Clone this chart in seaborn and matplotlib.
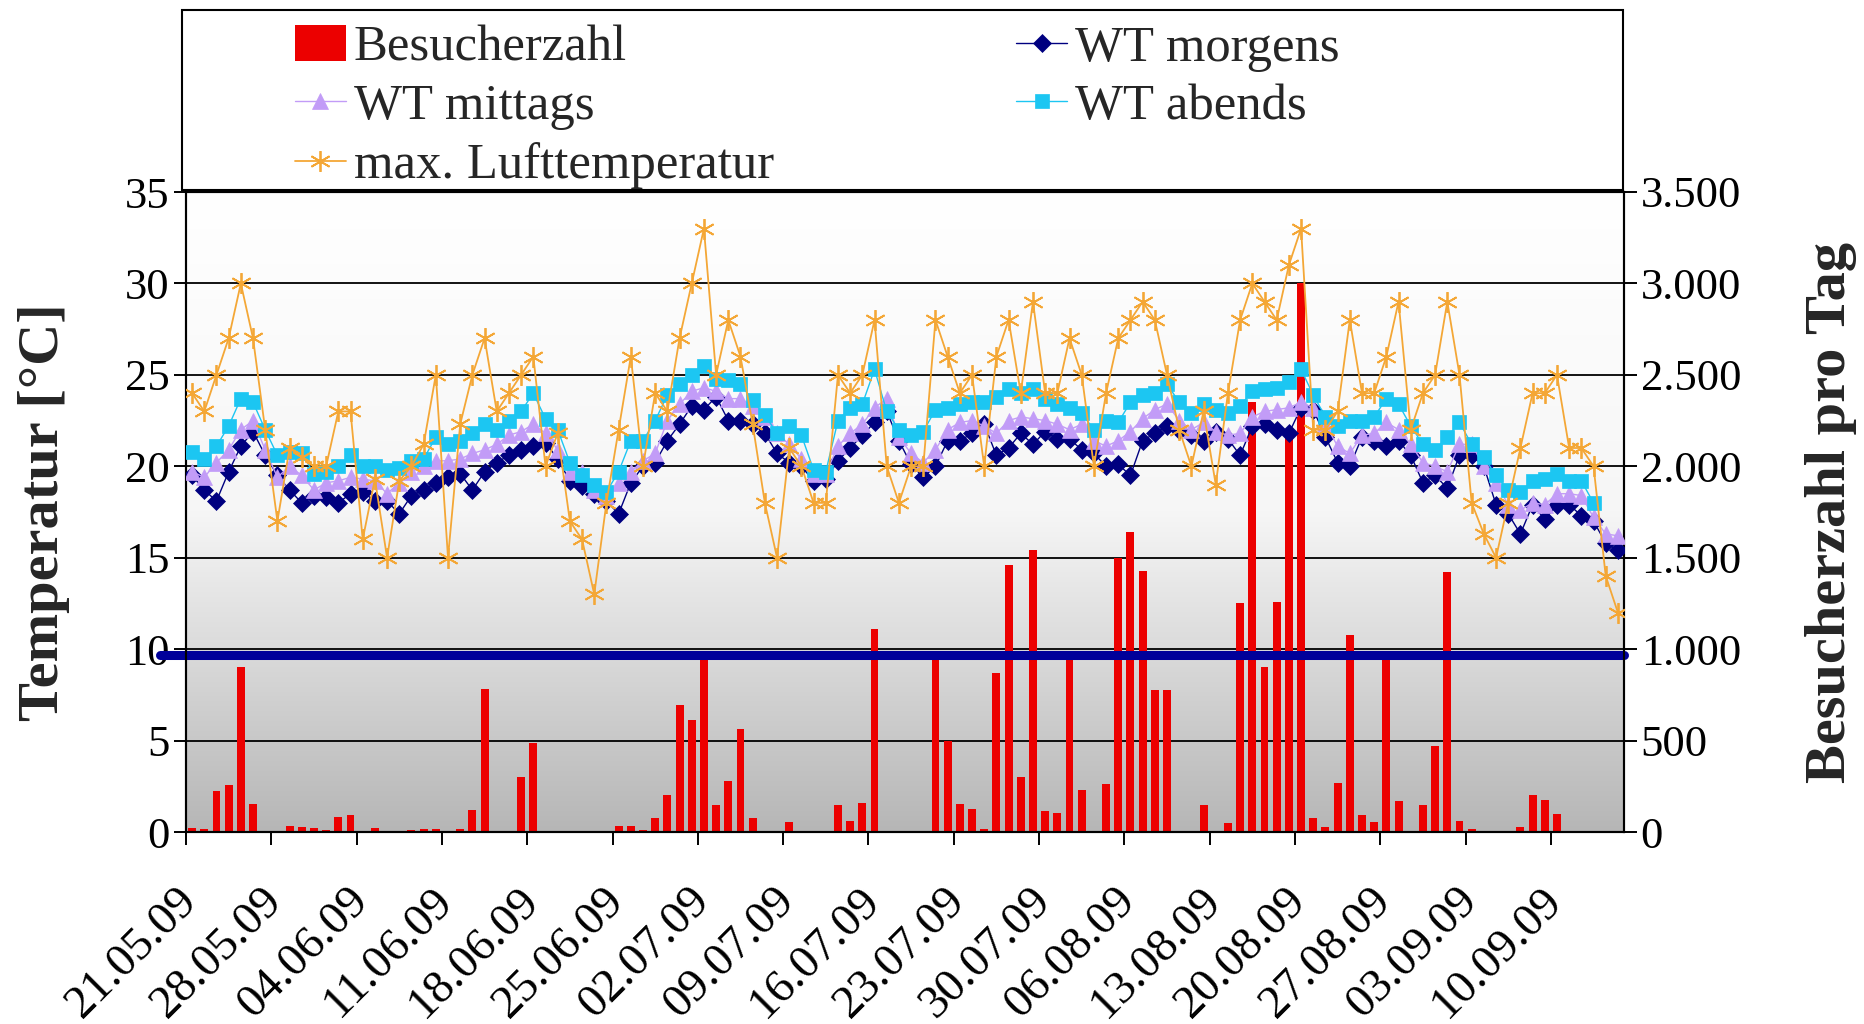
import numpy as np
import pandas as pd
import matplotlib
matplotlib.use("Agg")
import matplotlib.pyplot as plt
import seaborn as sns
from matplotlib.lines import Line2D
from matplotlib.patches import Patch, Rectangle
from matplotlib.colors import LinearSegmentedColormap
from matplotlib.ticker import FuncFormatter
from matplotlib.transforms import ScaledTranslation

# -----------------------------------------------------
# data: one value per day, 21.05.09 - 15.09.09
# -----------------------------------------------------
besucher = [20, 15, 225, 255, 905, 155, 5, 0, 35, 30, 20, 10, 80, 95,
            0, 20, 0, 0, 10, 15, 15, 0, 15, 120, 780, 0, 0, 300, 485,
            5, 5, 0, 0, 0, 5, 35, 35, 10, 75, 205, 695, 610, 940, 145,
            280, 565, 75, 5, 0, 55, 7, 0, 0, 150, 60, 160, 1110, 0, 0,
            5, 5, 960, 500, 155, 125, 15, 870, 1460, 300, 1540, 115, 105, 960, 230,
            5, 260, 1500, 1640, 1430, 775, 775, 5, 5, 145, 0, 50, 1250, 2350, 900,
            1260, 2170, 3000, 75, 30, 270, 1080, 95, 55, 960, 170, 5, 150, 470, 1420,
            60, 15, 0, 0, 0, 25, 205, 175, 100, 0, 8, 8, 0, 0]

wt_morgens = [19.5, 18.7, 18.1, 19.7, 21.1, 21.9, 20.6, 19.5, 18.7, 18.0, 18.4, 18.3, 18.0, 18.5,
              18.6, 18.1, 18.1, 17.4, 18.4, 18.7, 19.1, 19.4, 19.6, 18.7, 19.7, 20.2, 20.6, 20.9, 21.1,
              21.3, 20.4, 19.2, 18.9, 18.5, 18.1, 17.4, 19.1, 20.0, 20.2, 21.4, 22.3, 23.3, 23.1, 23.8,
              22.5, 22.5, 22.3, 21.8, 20.7, 20.2, 20.0, 19.2, 19.3, 20.3, 21.0, 21.7, 22.4, 23.0, 21.4,
              20.1, 19.4, 20.0, 21.4, 21.4, 21.8, 22.3, 20.6, 21.0, 21.8, 21.2, 21.9, 21.5, 21.5, 20.9,
              20.7, 20.0, 20.1, 19.5, 21.4, 21.8, 22.2, 22.0, 21.7, 21.4, 21.9, 21.5, 20.6, 22.2, 22.3,
              22.0, 21.8, 23.2, 23.1, 21.6, 20.2, 20.0, 21.6, 21.4, 21.1, 21.4, 20.6, 19.1, 19.5, 18.8,
              20.6, 20.6, 20.0, 17.9, 17.4, 16.3, 17.9, 17.1, 17.9, 17.9, 17.3, 17.0, 15.8, 15.4]

wt_mittags = [19.7, 19.4, 20.2, 20.9, 22.0, 22.5, 20.9, 19.4, 20.0, 19.5, 18.7, 19.1, 19.2, 19.4,
              19.3, 19.2, 18.5, 19.1, 19.7, 20.0, 20.3, 20.3, 20.4, 20.7, 20.9, 21.2, 21.7, 21.9, 22.3,
              21.8, 20.9, 19.7, 19.7, 18.7, 18.4, 19.1, 19.7, 20.3, 20.7, 22.5, 23.4, 24.1, 24.3, 24.1,
              23.7, 23.7, 23.3, 22.7, 21.8, 21.2, 20.4, 19.6, 19.6, 21.1, 21.8, 22.3, 23.2, 23.7, 21.6,
              20.7, 20.2, 20.9, 22.0, 22.4, 22.5, 22.2, 21.8, 22.5, 22.7, 22.6, 22.5, 22.3, 22.0, 22.3,
              21.4, 21.1, 21.4, 21.9, 22.6, 23.1, 23.4, 22.5, 22.0, 22.4, 21.9, 21.7, 21.8, 22.7, 23.0,
              23.1, 23.2, 23.5, 23.2, 22.3, 21.1, 20.7, 21.7, 21.8, 22.4, 22.0, 21.2, 20.2, 20.0, 19.7,
              21.2, 21.2, 20.0, 19.1, 17.9, 17.6, 18.0, 17.9, 18.5, 18.5, 18.4, 17.2, 16.3, 16.2]

wt_abends = [20.8, 20.4, 21.1, 22.2, 23.7, 23.5, 22.0, 20.6, 20.8, 20.7, 19.6, 19.7, 20.0, 20.6,
             20.0, 20.0, 19.8, 19.9, 20.3, 20.4, 21.6, 21.2, 21.4, 21.8, 22.3, 22.0, 22.5, 23.0, 24.0,
             22.6, 22.0, 20.2, 19.5, 19.0, 18.6, 19.7, 21.4, 21.4, 22.5, 23.9, 24.5, 25.0, 25.5, 24.8,
             24.7, 24.5, 23.6, 22.8, 21.8, 22.2, 21.7, 19.8, 19.7, 22.5, 23.2, 23.4, 25.3, 23.0, 22.0,
             21.7, 21.9, 23.1, 23.2, 23.4, 23.5, 23.5, 23.8, 24.2, 24.0, 24.2, 23.7, 23.4, 23.2, 22.9,
             22.0, 22.5, 22.4, 23.5, 23.9, 24.0, 24.5, 23.5, 22.9, 23.4, 23.1, 22.9, 23.3, 24.1, 24.2,
             24.3, 24.6, 25.3, 23.9, 22.7, 22.2, 22.5, 22.5, 22.7, 23.7, 23.4, 22.2, 21.2, 20.9, 21.6,
             22.4, 21.2, 20.5, 19.5, 18.7, 18.6, 19.2, 19.3, 19.6, 19.2, 19.2, 18.0, np.nan, np.nan]

luft_max = [24.0, 23.0, 25.0, 27.0, 30.0, 27.0, 22.0, 17.0, 21.0, 20.5, 20.0, 20.0, 23.0, 23.0,
            16.0, 19.3, 15.0, 19.2, 20.0, 21.2, 25.0, 15.0, 22.3, 25.0, 27.0, 23.0, 24.0, 25.0, 26.0,
            20.0, 21.8, 17.0, 16.0, 13.0, 18.0, 22.0, 26.0, 20.0, 24.0, 23.0, 27.0, 30.0, 33.0, 25.0,
            28.0, 26.0, 22.3, 18.0, 15.0, 21.0, 20.0, 18.0, 18.0, 25.0, 24.0, 25.0, 28.0, 20.0, 18.0,
            20.0, 20.0, 28.0, 26.0, 24.0, 25.0, 20.0, 26.0, 28.0, 24.0, 29.0, 24.0, 24.0, 27.0, 25.0,
            20.0, 24.0, 27.0, 28.0, 29.0, 28.0, 25.0, 22.0, 20.0, 23.0, 19.0, 24.0, 28.0, 30.0, 29.0,
            28.0, 31.0, 33.0, 22.0, 22.0, 23.0, 28.0, 24.0, 24.0, 26.0, 29.0, 22.0, 24.0, 25.0, 29.0,
            25.0, 18.0, 16.3, 15.0, 18.0, 21.0, 24.0, 24.0, 25.0, 21.0, 21.0, 20.0, 14.0, 12.0]

datum_labels = ["21.05.09", "28.05.09", "04.06.09", "11.06.09", "18.06.09", "25.06.09",
                "02.07.09", "09.07.09", "16.07.09", "23.07.09", "30.07.09", "06.08.09",
                "13.08.09", "20.08.09", "27.08.09", "03.09.09", "10.09.09"]

schwelle = 9.7   # the thick blue line, in degC

df = pd.DataFrame({
    "besucher": besucher,
    "wt_morgens": wt_morgens,
    "wt_mittags": wt_mittags,
    "wt_abends": wt_abends,
    "luft_max": luft_max,
})
df["tag"] = np.arange(len(df)) + 0.5   # bars sit between the day ticks

# colours
rot = "#ec0000"
navy = "#000080"
lila = "#c29cf7"
cyan = "#1cc6f2"
orange = "#f4a736"
blau = "#00009a"

# marker styles, shared by the plot and the legend
stil_mor = dict(color=navy, lw=1, marker="D", markersize=9, markeredgecolor=navy, markeredgewidth=0.5)
stil_mit = dict(color=lila, lw=1, marker="^", markersize=12, markeredgecolor=lila, markeredgewidth=0.5)
stil_abe = dict(color=cyan, lw=1, marker="s", markersize=10.5, markeredgecolor=cyan, markeredgewidth=0.5)
stil_max = dict(color=orange, lw=1.3, marker=(6, 2, 0), markersize=15, markeredgecolor=orange,
                markeredgewidth=1.3)

sns.set_style("ticks")
plt.rcParams["font.family"] = ["Liberation Serif", "DejaVu Serif"]

fig = plt.figure(figsize=(18.64, 10.24), dpi=100)
rect = [186 / 1864, 192 / 1024, 1438 / 1864, 640 / 1024]

# gradient background of the plot area
bg = fig.add_axes(rect, zorder=0)
grad = np.linspace(0, 1, 256).reshape(-1, 1)
bg.imshow(grad, aspect="auto", extent=[0, 1, 0, 1],
          cmap=LinearSegmentedColormap.from_list("grau", ["#ffffff", "#f6f6f6", "#b6b6b6"]))
bg.axis("off")

# axis for the visitors (right scale), bars
ax = fig.add_axes(rect, zorder=1)
ax.patch.set_visible(False)
sns.barplot(data=df, x="tag", y="besucher", native_scale=True, width=0.65,
            color=rot, saturation=1, errorbar=None, linewidth=0, ax=ax)

# axis for the temperatures (left scale), lines
ax2 = ax.twinx()
ax2.axhline(schwelle, xmin=-0.018, xmax=1, color=blau, lw=6.5, clip_on=False, zorder=1)

sns.lineplot(data=df, x="tag", y="wt_morgens", ax=ax2, zorder=3, **stil_mor)
sns.lineplot(data=df, x="tag", y="wt_mittags", ax=ax2, zorder=4, **stil_mit)
sns.lineplot(data=df, x="tag", y="wt_abends", ax=ax2, zorder=5, **stil_abe)
sns.lineplot(data=df, x="tag", y="luft_max", ax=ax2, zorder=6, **stil_max)

# limits, ticks
ax.set_xlim(0, 118)
ax.set_ylim(0, 3500)
ax.set_yticks(np.arange(0, 3501, 500))
ax.yaxis.set_major_formatter(FuncFormatter(lambda v, p: f"{int(v):,}".replace(",", ".")))
ax.yaxis.tick_right()
ax.yaxis.set_label_position("right")
ax.set_axisbelow(True)
ax.yaxis.grid(True, color="black", lw=1.3)

ax2.set_ylim(0, 35)
ax2.set_yticks(np.arange(0, 36, 5))
ax2.yaxis.tick_left()
ax2.yaxis.set_label_position("left")

ax.set_xticks(np.arange(0, 113, 7))
ax.set_xticklabels(datum_labels, rotation=45, ha="right", va="center", rotation_mode="anchor")

ax.tick_params(axis="x", length=9, width=1.4, pad=36, labelsize=34, colors="black")
ax.tick_params(axis="y", length=9, width=1.4, pad=3, labelsize=32, colors="black",
               right=True, left=False)
ax2.tick_params(axis="y", length=9, width=1.4, pad=3, labelsize=32, colors="black",
                left=True, right=False)

# nudge the rotated date labels a bit to the right
for lbl in ax.get_xticklabels():
    lbl.set_transform(lbl.get_transform() + ScaledTranslation(0.05, 0, fig.dpi_scale_trans))

ax.set_xlabel("")
ax2.set_xlabel("")
ax.set_ylabel("Besucherzahl pro Tag", fontsize=42, fontweight="bold")
ax2.set_ylabel("Temperatur [°C]", fontsize=42, fontweight="bold")
ax.yaxis.set_label_coords(1.126, 0.5)
ax2.yaxis.set_label_coords(-0.081, 0.5)

for a in (ax, ax2):
    for s in a.spines.values():
        s.set_visible(True)
        s.set_color("black")
        s.set_linewidth(1.5)

# legend box above the plot
fig.patches.append(Rectangle((182 / 1864, 1 - 190 / 1024), 1441 / 1864, 180 / 1024,
                             transform=fig.transFigure, facecolor="white",
                             edgecolor="black", lw=1.5, zorder=0))

h_bes = Patch(facecolor=rot, edgecolor="none")
h_mor = Line2D([0], [0], **stil_mor)
h_mit = Line2D([0], [0], **stil_mit)
h_abe = Line2D([0], [0], **stil_abe)
h_max = Line2D([0], [0], **stil_max)

# ncol=2 fills column-wise, so order the handles to read row by row
fig.legend([h_bes, h_mit, h_max, h_mor, h_abe],
           ["Besucherzahl", "WT mittags", "max. Lufttemperatur", "WT morgens", "WT abends"],
           ncol=2, loc="upper left", bbox_to_anchor=(295 / 1864, 1 - 25 / 1024),
           frameon=False, fontsize=36.5, borderpad=0, borderaxespad=0,
           handlelength=1.0, handletextpad=0.16, columnspacing=4.78, labelspacing=0.24,
           numpoints=1)

fig.savefig("out.png", dpi=100)
